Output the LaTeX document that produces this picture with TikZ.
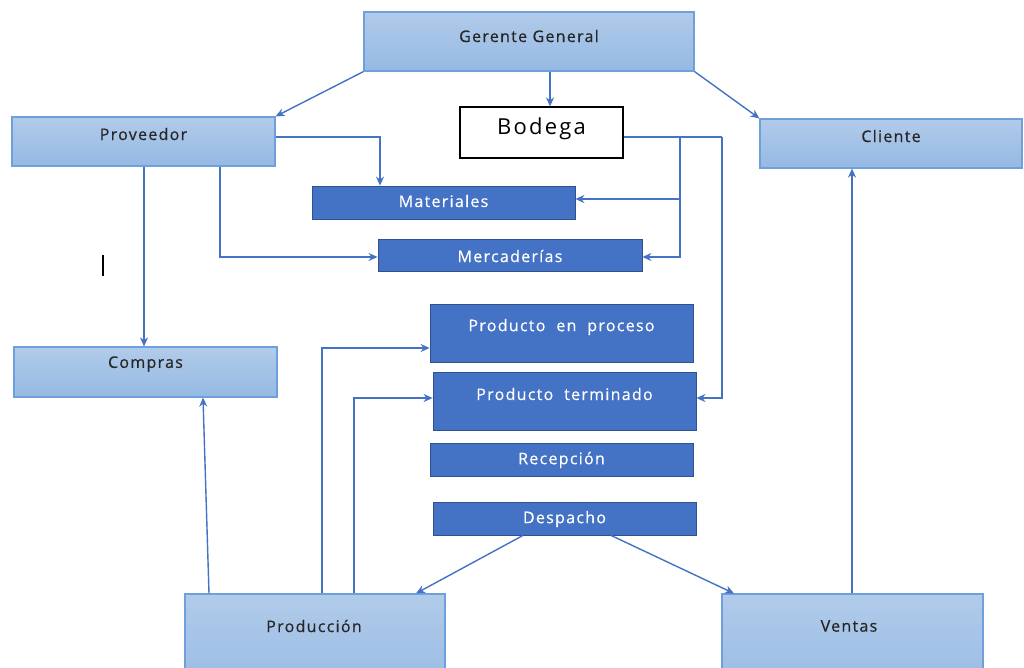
\documentclass[tikz,border=0pt]{standalone}
\usepackage{fontspec}
\setmainfont{Open Sans}
\newfontfamily\boxfont[LetterSpace=8,FakeBold=0.5]{Open Sans}
\newfontfamily\titlefont[LetterSpace=10]{Open Sans}
\usetikzlibrary{arrows.meta}
\definecolor{linkblue}{HTML}{4472C4}
\definecolor{darkbox}{HTML}{4472C4}
\definecolor{darkedge}{HTML}{2F528F}
\definecolor{lighttop}{HTML}{B1CBEA}
\definecolor{lightbot}{HTML}{95B9E3}
\definecolor{lightedge}{HTML}{6FA0DC}
\definecolor{ink}{HTML}{262626}
\tikzset{
  lightbox/.style={rectangle, draw=lightedge, line width=1.2pt, top color=lighttop, bottom color=lightbot, inner sep=0pt},
  darkbox/.style={rectangle, draw=darkedge, line width=0.8pt, fill=darkbox, inner sep=0pt},
  plainbox/.style={rectangle, draw=black, line width=1.2pt, fill=white, inner sep=0pt},
  lighttext/.style={font=\boxfont\fontsize{16}{19}\selectfont, text=ink},
  darktext/.style={font=\boxfont\fontsize{16}{19}\selectfont, text=white},
  conn/.style={draw=linkblue, line width=1.4pt, -{Stealth[length=9pt,width=8pt]}},
  wire/.style={draw=linkblue, line width=1.4pt}
}
\begin{document}
\begin{tikzpicture}[x=1pt,y=-1pt]
\useasboundingbox (0,0) rectangle (1024,667);
\clip (0,0) rectangle (1024,667);
\fill[white] (0,0) rectangle (1024,667);

% management and partners
\node[lightbox, minimum width=330pt, minimum height=59pt] (gg) at (529,41.5) {};
\node[lighttext] (ggt) at (529,36) {Gerente General};
\node[plainbox, minimum width=163pt, minimum height=51pt] (bod) at (541.5,132.5) {};
\node[font=\titlefont\fontsize{22}{26}\selectfont, text=black] (bodt) at (541.5,129) {Bodega};
\node[lightbox, minimum width=263pt, minimum height=49pt] (prov) at (143.5,141.5) {};
\node[lighttext] (provt) at (143.5,134) {Proveedor};
\node[lightbox, minimum width=262pt, minimum height=49pt] (cli) at (891,143.5) {};
\node[lighttext] (clit) at (891,136) {Cliente};
\node[lightbox, minimum width=263pt, minimum height=50pt] (comp) at (145.5,372) {};
\node[lighttext] (compt) at (145.5,364) {Compras};
\node[lightbox, minimum width=260pt, minimum height=110pt] (prod) at (315,649) {};
\node[lighttext] (prodt) at (314,626) {Producción};
\node[lightbox, minimum width=261pt, minimum height=110pt] (vent) at (852.5,649) {};
\node[lighttext] (ventt) at (849,626) {Ventas};

% warehouse sections
\node[darkbox, minimum width=263pt, minimum height=33pt] (mat) at (443.5,202.5) {};
\node[darktext] (matt) at (443.5,201) {Materiales};
\node[darkbox, minimum width=264pt, minimum height=32pt] (merc) at (510,255) {};
\node[darktext] (merct) at (510,256) {Mercaderías};
\node[darkbox, minimum width=263pt, minimum height=58pt] (pep) at (561.5,333) {};
\node[darktext] (pept) at (561.5,327) {Producto\ \ en\ \ proceso};
\node[darkbox, minimum width=263pt, minimum height=58pt] (pt) at (564.5,401) {};
\node[darktext] (ptt) at (564.5,394) {Producto\ \ terminado};
\node[darkbox, minimum width=263pt, minimum height=33pt] (rec) at (561.5,459.5) {};
\node[darktext] (rect) at (561.5,460) {Recepción};
\node[darkbox, minimum width=263pt, minimum height=33pt] (desp) at (564.5,518.5) {};
\node[darktext] (despt) at (564.5,519) {Despacho};

% connectors from the top
\draw[conn] (gg.south -| 550,0) -- (bod.north -| 550,0);
\draw[conn] (gg.south west) -- (prov.north east);
\draw[conn] (gg.south east) -- (cli.north west);

% supplier flows
\draw[conn] (prov.east |- 0,137) -- (380,137) -- (mat.north -| 380,0);
\draw[conn] (prov.south -| 220,0) |- (merc.west |- 0,257);
\draw[conn] (prov.south -| 144,0) -- (comp.north -| 144,0);

% warehouse flows
\draw[wire] (bod.east |- 0,137) -- (722,137);
\draw[conn] (722,137) |- (pt.east |- 0,398);
\draw[conn] (680,137) |- (merc.east |- 0,257);
\draw[conn] (680,199) -- (mat.east |- 0,199);

% production flows
\draw[conn] (prod.north -| 322,0) |- (pep.west |- 0,348);
\draw[conn] (prod.north -| 354,0) |- (pt.west |- 0,398);
\draw[conn] (prod.north -| 209,0) -- (comp.south -| 203,0);

% dispatch and sales
\draw[conn] (desp.south -| 523,0) -- (prod.north -| 416,0);
\draw[conn] (desp.south -| 611,0) -- (vent.north -| 734,0);
\draw[conn] (vent.north -| 852,0) -- (cli.south -| 852,0);

% text cursor mark
\draw[black, line width=1.3pt] (103,255) -- (103,276);
\end{tikzpicture}
\end{document}
